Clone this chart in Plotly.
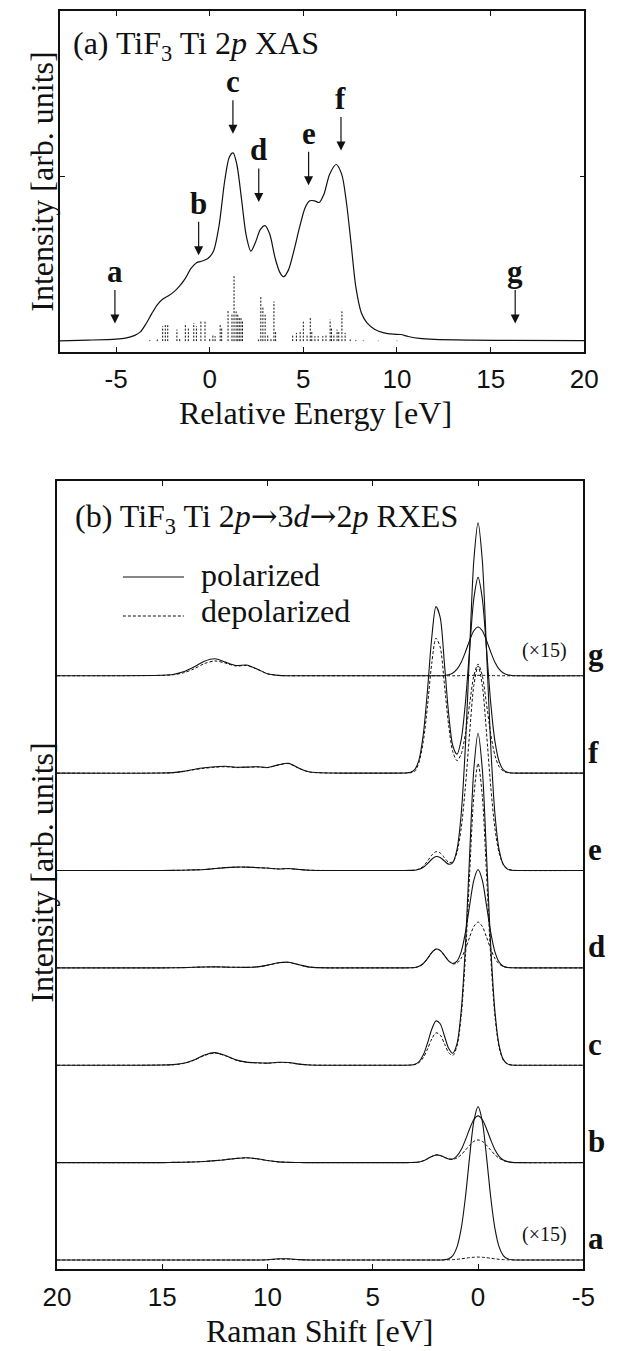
import plotly.graph_objects as go

# ---------------- Panel (a): TiF3 Ti 2p XAS ----------------
xas_energy = [-8.0, -6.5, -5.0, -4.5, -4.0, -3.7, -3.4, -3.1, -2.8, -2.5, -2.2, -1.9, -1.6, -1.3,
              -1.0, -0.7, -0.4, -0.1, 0.2, 0.5, 0.8, 1.05, 1.25, 1.45, 1.7, 1.95, 2.2, 2.45, 2.7,
              2.95, 3.2, 3.5, 3.75, 3.95, 4.2, 4.5, 4.8, 5.1, 5.35, 5.6, 5.85, 6.1, 6.4, 6.75,
              7.05, 7.3, 7.55, 7.8, 8.1, 8.4, 8.8, 9.3, 9.8, 10.2, 10.6, 11.2, 12.0, 14.0, 16.0, 20.0]
xas_intensity = [0.002, 0.006, 0.012, 0.018, 0.035, 0.056, 0.105, 0.165, 0.22, 0.255, 0.275, 0.30, 0.335, 0.38,
                 0.44, 0.475, 0.485, 0.50, 0.545, 0.70, 0.97, 1.115, 1.14, 1.07, 0.86, 0.64, 0.545, 0.60, 0.675,
                 0.70, 0.65, 0.50, 0.415, 0.39, 0.43, 0.55, 0.69, 0.81, 0.85, 0.85, 0.84, 0.89, 1.01, 1.07,
                 1.01, 0.84, 0.59, 0.33, 0.17, 0.11, 0.072, 0.05, 0.042, 0.04, 0.028, 0.016, 0.01, 0.006, 0.004, 0.003]

stick_energy = [-3.2, -2.8, -2.51, -2.37, -2.24, -1.75, -1.6, -1.3, -1.14, -0.85, -0.71, -0.47, -0.25,
                0.0, 0.17, 0.29, 0.56, 0.64, 0.98, 1.19, 1.3, 1.41, 1.5, 1.58, 1.67, 1.75,
                2.6, 2.73, 2.84, 2.96, 3.1, 3.27, 3.43, 3.52, 4.43, 4.63, 4.83, 5.0, 5.2, 5.37,
                5.45, 5.62, 5.79, 6.04, 6.21, 6.43, 6.5, 6.63, 6.8, 6.89, 7.06, 7.23, 7.5, 7.8, 8.2, 9.0, 10.0]
stick_strength = [0.005, 0.01, 0.09, 0.10, 0.105, 0.07, 0.02, 0.097, 0.077, 0.11, 0.09, 0.127, 0.12,
                  0.02, 0.04, 0.03, 0.10, 0.085, 0.19, 0.17, 0.40, 0.18, 0.16, 0.14, 0.14, 0.12,
                  0.01, 0.27, 0.21, 0.16, 0.04, 0.02, 0.24, 0.06, 0.04, 0.05, 0.065, 0.125, 0.04, 0.145,
                  0.06, 0.03, 0.03, 0.03, 0.04, 0.13, 0.08, 0.04, 0.07, 0.06, 0.18, 0.05, 0.01, 0.005, 0.004, 0.003, 0.003]

arrow_labels = ["a", "b", "c", "d", "e", "f", "g"]
arrow_energy = [-5.06, -0.59, 1.24, 2.62, 5.28, 7.01, 16.31]
arrow_tip_intensity = [0.107, 0.52, 1.256, 0.843, 0.944, 1.155, 0.107]

xas_tick_values = [-5, 0, 5, 10, 15, 20]
xas_tick_labels = ["-5", "0", "5", "10", "15", "20"]

# ---------------- Panel (b): RXES spectra ----------------
raman_shift = [20, 15, 14.5, 14, 13.5, 13, 12.5, 12, 11.5, 11,
               10.5, 10, 9.5, 9, 8.5, 8, 7, 6, 5, 4,
               3.5, 3.2, 3.0, 2.8, 2.6, 2.4, 2.2, 2.0, 1.8, 1.6,
               1.4, 1.2, 1.0, 0.8, 0.6, 0.4, 0.2, 0.0, -0.2, -0.4,
               -0.6, -0.8, -1.0, -1.2, -1.4, -1.6, -2.0, -5.0]

spectrum_labels = ["a", "b", "c", "d", "e", "f", "g"]
spectrum_offsets = [0, 1, 2, 3, 4, 5, 6]

a_polarized = [0, 0, 0, 0, 0, 0, 0, 0, 0, 0,
               0, 0.003, 0.012, 0.012, 0.004, 0, 0, 0, 0, 0,
               0, 0, 0, 0, 0, 0, 0, 0, 0, 0.003,
               0.012, 0.045, 0.134, 0.324, 0.647, 1.062, 1.427, 1.575, 1.427, 1.062,
               0.647, 0.324, 0.134, 0.045, 0.012, 0.003, 0, 0]
a_depolarized = [0, 0, 0, 0, 0, 0, 0, 0, 0, 0,
                 0, 0.002, 0.008, 0.008, 0.003, 0, 0, 0, 0, 0,
                 0, 0, 0, 0, 0, 0, 0, 0, 0, 0.001,
                 0.002, 0.004, 0.007, 0.012, 0.018, 0.024, 0.028, 0.03, 0.028, 0.024,
                 0.018, 0.012, 0.007, 0.004, 0.002, 0.001, 0, 0]

b_polarized = [0, 0, 0.002, 0.004, 0.007, 0.012, 0.02, 0.03, 0.043, 0.05,
               0.04, 0.022, 0.008, 0.003, 0.001, 0, 0, 0, 0, 0,
               0, 0.001, 0.002, 0.007, 0.019, 0.04, 0.064, 0.079, 0.074, 0.055,
               0.038, 0.038, 0.069, 0.134, 0.234, 0.348, 0.443, 0.48, 0.443, 0.348,
               0.234, 0.133, 0.065, 0.027, 0.01, 0.003, 0, 0]
b_depolarized = [0, 0, 0.002, 0.004, 0.007, 0.012, 0.02, 0.03, 0.042, 0.049,
                 0.039, 0.021, 0.008, 0.003, 0.001, 0, 0, 0, 0, 0,
                 0, 0.001, 0.002, 0.007, 0.019, 0.04, 0.064, 0.079, 0.074, 0.055,
                 0.037, 0.033, 0.049, 0.081, 0.129, 0.179, 0.218, 0.233, 0.218, 0.179,
                 0.129, 0.081, 0.045, 0.022, 0.009, 0.003, 0, 0]

c_polarized = [0, 0.002, 0.006, 0.02, 0.055, 0.105, 0.13, 0.1, 0.055, 0.032,
               0.025, 0.022, 0.03, 0.028, 0.012, 0.003, 0, 0, 0, 0,
               0, 0.002, 0.01, 0.038, 0.107, 0.228, 0.37, 0.455, 0.426, 0.303,
               0.175, 0.124, 0.221, 0.561, 1.23, 2.165, 3.045, 3.41, 3.045, 2.165,
               1.228, 0.556, 0.201, 0.058, 0.014, 0.002, 0, 0]
c_depolarized = [0, 0.002, 0.005, 0.018, 0.05, 0.1, 0.125, 0.097, 0.053, 0.031,
                 0.024, 0.021, 0.028, 0.026, 0.011, 0.003, 0, 0, 0, 0,
                 0, 0.001, 0.007, 0.028, 0.078, 0.167, 0.27, 0.333, 0.311, 0.222,
                 0.13, 0.101, 0.198, 0.508, 1.116, 1.969, 2.768, 3.1, 2.768, 1.969,
                 1.116, 0.505, 0.183, 0.053, 0.012, 0.002, 0, 0]

d_polarized = [0, 0, 0.001, 0.003, 0.006, 0.009, 0.01, 0.008, 0.006, 0.005,
               0.01, 0.028, 0.052, 0.058, 0.032, 0.008, 0, 0, 0, 0,
               0, 0.001, 0.004, 0.016, 0.045, 0.097, 0.157, 0.193, 0.18, 0.129,
               0.072, 0.045, 0.069, 0.167, 0.364, 0.641, 0.902, 1.01, 0.902, 0.641,
               0.364, 0.165, 0.06, 0.017, 0.004, 0.001, 0, 0]
d_depolarized = [0, 0, 0.001, 0.003, 0.006, 0.009, 0.01, 0.008, 0.006, 0.005,
                 0.01, 0.027, 0.05, 0.056, 0.031, 0.008, 0, 0, 0, 0,
                 0, 0.001, 0.004, 0.016, 0.044, 0.095, 0.154, 0.19, 0.177, 0.127,
                 0.072, 0.041, 0.049, 0.099, 0.193, 0.317, 0.426, 0.47, 0.426, 0.317,
                 0.193, 0.097, 0.04, 0.013, 0.004, 0.001, 0, 0]

e_polarized = [0, 0, 0.001, 0.003, 0.006, 0.01, 0.02, 0.03, 0.035, 0.035,
               0.03, 0.025, 0.016, 0.02, 0.011, 0.003, 0, 0, 0, 0,
               0, 0.001, 0.003, 0.012, 0.033, 0.071, 0.116, 0.143, 0.133, 0.097,
               0.065, 0.082, 0.217, 0.582, 1.285, 2.267, 3.188, 3.57, 3.188, 2.267,
               1.285, 0.582, 0.211, 0.061, 0.014, 0.0025, 0, 0]
e_depolarized = [0, 0, 0.001, 0.003, 0.006, 0.01, 0.02, 0.029, 0.034, 0.034,
                 0.029, 0.024, 0.016, 0.019, 0.01, 0.003, 0, 0, 0, 0,
                 0, 0.001, 0.004, 0.016, 0.045, 0.097, 0.157, 0.193, 0.18, 0.132,
                 0.085, 0.088, 0.188, 0.435, 0.863, 1.415, 1.903, 2.1, 1.903, 1.415,
                 0.863, 0.433, 0.179, 0.06, 0.017, 0.004, 0, 0]

f_polarized = [0, 0.001, 0.005, 0.018, 0.038, 0.055, 0.065, 0.07, 0.06, 0.062,
               0.066, 0.058, 0.085, 0.1, 0.05, 0.012, 0.001, 0, 0, 0,
               0.001, 0.008, 0.038, 0.142, 0.40, 0.858, 1.39, 1.71, 1.60, 1.13,
               0.615, 0.281, 0.195, 0.345, 0.726, 1.276, 1.795, 2.01, 1.795, 1.276,
               0.724, 0.328, 0.119, 0.034, 0.008, 0.001, 0, 0]
f_depolarized = [0, 0.001, 0.004, 0.016, 0.035, 0.05, 0.06, 0.066, 0.057, 0.06,
                 0.064, 0.056, 0.083, 0.098, 0.048, 0.011, 0.001, 0, 0, 0,
                 0.001, 0.004, 0.018, 0.115, 0.325, 0.694, 1.127, 1.386, 1.295, 0.916,
                 0.495, 0.219, 0.128, 0.197, 0.405, 0.711, 1.0, 1.12, 1.0, 0.711,
                 0.403, 0.183, 0.066, 0.019, 0.0045, 0.001, 0, 0]

g_polarized = [0, 0.005, 0.012, 0.04, 0.09, 0.15, 0.175, 0.14, 0.105, 0.11,
               0.07, 0.02, 0.004, 0, 0, 0, 0, 0, 0, 0,
               0, 0, 0, 0, 0, 0, 0, 0, 0, 0.003,
               0.01, 0.028, 0.068, 0.139, 0.244, 0.363, 0.462, 0.50, 0.462, 0.363,
               0.244, 0.139, 0.068, 0.028, 0.01, 0.003, 0, 0]
g_depolarized = [0, 0.004, 0.01, 0.03, 0.07, 0.125, 0.152, 0.13, 0.1, 0.105,
                 0.068, 0.02, 0.004, 0, 0, 0, 0, 0, 0, 0,
                 0, 0, 0, 0, 0, 0, 0, 0, 0, 0,
                 0, 0, 0, 0.001, 0.002, 0.003, 0.004, 0.004, 0.004, 0.003,
                 0.002, 0.001, 0, 0, 0, 0, 0, 0]

polarized_sets = [a_polarized, b_polarized, c_polarized, d_polarized, e_polarized, f_polarized, g_polarized]
depolarized_sets = [a_depolarized, b_depolarized, c_depolarized, d_depolarized, e_depolarized, f_depolarized, g_depolarized]
scaled_spectra = ["a", "g"]  # shown multiplied by 15

rxes_tick_values = [20, 15, 10, 5, 0, -5]
rxes_tick_labels = ["20", "15", "10", "5", "0", "-5"]

# ---------------- Styling ----------------
W, H = 626, 1351
SERIF = "Liberation Serif, Times New Roman, serif"
SANS = "Liberation Sans, Arial, Helvetica, sans-serif"
INK = "#111111"

def px(xp):
    return xp / W

def py(yp):
    return 1 - yp / H

fig = go.Figure()

# XAS curve
fig.add_trace(go.Scatter(x=xas_energy, y=xas_intensity, mode="lines",
                         line=dict(color=INK, width=1.2, shape="spline", smoothing=0.8),
                         xaxis="x", yaxis="y", hoverinfo="skip"))
# stick spectrum
sx, sy = [], []
for e, s in zip(stick_energy, stick_strength):
    sx += [e, e, None]
    sy += [0, s, None]
fig.add_trace(go.Scatter(x=sx, y=sy, mode="lines",
                         line=dict(color=INK, width=1, dash="2px,1.5px"),
                         xaxis="x", yaxis="y", hoverinfo="skip"))

# RXES curves
for lab, off, pol, dep in zip(spectrum_labels, spectrum_offsets, polarized_sets, depolarized_sets):
    fig.add_trace(go.Scatter(x=raman_shift, y=[off + v for v in dep], mode="lines",
                             line=dict(color=INK, width=1, dash="3px,2px", shape="spline", smoothing=0.8),
                             xaxis="x2", yaxis="y2", hoverinfo="skip"))
    fig.add_trace(go.Scatter(x=raman_shift, y=[off + v for v in pol], mode="lines",
                             line=dict(color=INK, width=1.1, shape="spline", smoothing=0.8),
                             xaxis="x2", yaxis="y2", hoverinfo="skip"))

axis_common = dict(showgrid=False, zeroline=False, showline=True, linecolor=INK, linewidth=1.5,
                   mirror="ticks", ticks="inside", ticklen=5, tickwidth=1, tickcolor=INK)

fig.update_layout(
    width=W, height=H,
    margin=dict(l=0, r=0, t=0, b=0),
    paper_bgcolor="white", plot_bgcolor="white",
    showlegend=False,
    xaxis=dict(domain=[px(48), px(597)], range=[-8, 20], anchor="y",
               tickvals=xas_tick_values, ticktext=xas_tick_labels, ticklabelstandoff=3,
               tickfont=dict(family=SANS, size=26, color=INK), **axis_common),
    yaxis=dict(domain=[py(352), py(11)], range=[-0.066, 2.0], anchor="x",
               tickvals=[1], showticklabels=False, **axis_common),
    xaxis2=dict(domain=[px(45), px(596)], range=[20, -5], anchor="y2",
                tickvals=rxes_tick_values, ticktext=rxes_tick_labels, ticklabelstandoff=4,
                tickfont=dict(family=SANS, size=26, color=INK), **axis_common),
    yaxis2=dict(domain=[py(1269), py(481)], range=[-0.0925, 8.0], anchor="x2",
                tickvals=[], showticklabels=False, **axis_common),
)

ARROW = '<span style="font-family:DejaVu Serif">\u2192</span>'

ann = []
# titles
ann.append(dict(text="(a) TiF<sub>3</sub> Ti 2<i>p</i> XAS", xref="paper", yref="paper",
                x=px(60), y=py(45), xanchor="left", yanchor="middle", showarrow=False,
                font=dict(family=SERIF, size=32, color=INK)))
ann.append(dict(text="(b) TiF<sub>3</sub> Ti 2<i>p</i>" + ARROW + "3<i>d</i>" + ARROW + "2<i>p</i> RXES",
                xref="paper", yref="paper",
                x=px(62), y=py(518), xanchor="left", yanchor="middle", showarrow=False,
                font=dict(family=SERIF, size=32, color=INK)))
# axis titles
ann.append(dict(text="Relative Energy [eV]", xref="paper", yref="paper", x=px(316), y=py(413),
                xanchor="center", yanchor="middle", showarrow=False, font=dict(family=SERIF, size=32, color=INK)))
ann.append(dict(text="Raman Shift [eV]", xref="paper", yref="paper", x=px(320), y=0,
                xanchor="center", yanchor="bottom", showarrow=False, font=dict(family=SERIF, size=32, color=INK)))
for yc in (182, 873):
    ann.append(dict(text="Intensity [arb. units]", xref="paper", yref="paper", x=px(29), y=py(yc),
                    xanchor="center", yanchor="middle", textangle=-90, showarrow=False,
                    font=dict(family=SERIF, size=32, color=INK)))

# excitation arrows and letters (panel a)
for lab, e, tip in zip(arrow_labels, arrow_energy, arrow_tip_intensity):
    ann.append(dict(x=e, y=tip, xref="x", yref="y", text="", showarrow=True, ax=0, ay=-35,
                    arrowhead=2, arrowsize=1.5, arrowwidth=1.2, arrowcolor=INK))
    ann.append(dict(x=e, y=tip, xref="x", yref="y", text="<b>%s</b>" % lab, showarrow=False,
                    yshift=52, xanchor="center", yanchor="middle",
                    font=dict(family=SERIF, size=31, color=INK)))

# spectrum letters (panel b)
for lab, off in zip(spectrum_labels, spectrum_offsets):
    ann.append(dict(x=px(599), y=off, xref="paper", yref="y2", text="<b>%s</b>" % lab, showarrow=False,
                    yshift=21, xanchor="left", yanchor="middle",
                    font=dict(family=SERIF, size=31, color=INK)))
    if lab in scaled_spectra:
        ann.append(dict(x=-3.14, y=off, xref="x2", yref="y2", text="(\u00d715)", showarrow=False,
                        yshift=25, xanchor="center", yanchor="middle",
                        font=dict(family=SERIF, size=20, color=INK)))

# legend text
ann.append(dict(text="polarized", xref="paper", yref="paper", x=px(194), y=py(575), xanchor="left",
                yanchor="middle", showarrow=False, font=dict(family=SERIF, size=32, color=INK)))
ann.append(dict(text="depolarized", xref="paper", yref="paper", x=px(194), y=py(611), xanchor="left",
                yanchor="middle", showarrow=False, font=dict(family=SERIF, size=32, color=INK)))
fig.update_layout(annotations=ann)

# legend line samples
fig.add_shape(type="line", xref="paper", yref="paper", x0=px(114), x1=px(178), y0=py(577), y1=py(577),
              line=dict(color=INK, width=1.1))
fig.add_shape(type="line", xref="paper", yref="paper", x0=px(114), x1=px(178), y0=py(616), y1=py(616),
              line=dict(color=INK, width=1, dash="3px,2px"))

fig.write_html("out.html")
